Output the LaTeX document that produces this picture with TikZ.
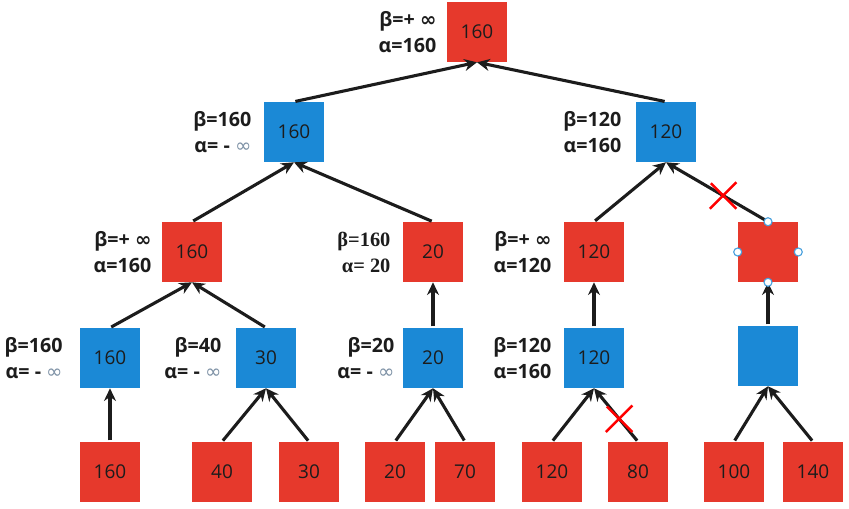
\documentclass[tikz,border=0pt]{standalone}
\usepackage{fontspec}
\setmainfont{Open Sans}
\newfontfamily\symfont{DejaVu Sans}
\newfontfamily\timesfont{Liberation Serif}
\usepackage{xcolor}
\usepackage{tikz}
\usetikzlibrary{arrows.meta, positioning, shapes.misc}
\definecolor{myred}{RGB}{230,57,44}
\definecolor{myblue}{RGB}{27,137,214}
\definecolor{mytext}{RGB}{28,28,28}
\definecolor{myinf}{RGB}{125,145,165}
\newcommand{\binf}{{\symfont\bfseries ∞}}
\newcommand{\linf}{{\symfont\mdseries\color{myinf}∞}}
\tikzstyle{redbox} = [rectangle, fill=myred, minimum size=1.5cm, inner sep=0pt, text=mytext, font=\fontsize{13.5}{16}\selectfont]
\tikzstyle{bluebox} = [redbox, fill=myblue]
\tikzstyle{ablabel} = [align=right, inner sep=0pt, text=mytext, font=\fontsize{14}{18.5}\selectfont\bfseries]
\tikzstyle{arrow} = [line width=2.2pt, shorten <=1pt, -{Stealth[length=9pt,width=8.5pt]}, draw=mytext]
\tikzstyle{cut} = [cross out, draw=red, line width=1.8pt, minimum size=0.6cm, inner sep=0pt]
\tikzstyle{handle} = [circle, draw=myblue!80, fill=white, line width=0.8pt, minimum size=0.2cm, inner sep=0pt]

\begin{document}
\begin{tikzpicture}[x=0.025cm, y=-0.025cm, node distance=0.3cm]
\useasboundingbox (0,0) rectangle (849,508);

% root and max/min levels
\node[redbox] (root) at (477,32) {160};
\node[bluebox] (b1) at (294,132) {160};
\node[bluebox] (b2) at (666,132) {120};

\node[redbox] (r1) at (192,252) {160};
\node[redbox] (r2) at (433,252) {20};
\node[redbox] (r3) at (594,252) {120};
\node[redbox] (r4) at (768,252) {};

\node[bluebox] (b3) at (110,358) {160};
\node[bluebox] (b4) at (266,358) {30};
\node[bluebox] (b5) at (433,358) {20};
\node[bluebox] (b6) at (594,358) {120};
\node[bluebox] (b7) at (768,356) {};

% leaves
\node[redbox] (l1) at (110,472) {160};
\node[redbox] (l2) at (222,472) {40};
\node[redbox] (l3) at (309,472) {30};
\node[redbox] (l4) at (395,472) {20};
\node[redbox] (l5) at (465,472) {70};
\node[redbox] (l6) at (552,472) {120};
\node[redbox] (l7) at (638,472) {80};
\node[redbox] (l8) at (734,472) {100};
\node[redbox] (l9) at (813,472) {140};

% alpha / beta values
\node[ablabel, left=0.25cm of root] (t-root) {β=+ \binf\\α=160};
\node[ablabel, left=0.3cm of b1] (t-b1) {β=160\\α= - \linf};
\node[ablabel, left=0.35cm of b2] (t-b2) {β=120\\α=160};
\node[ablabel, left=0.25cm of r1] (t-r1) {β=+ \binf\\α=160};
\node[ablabel, left=0.3cm of r2, font=\fontsize{14.5}{18.5}\selectfont\timesfont\bfseries] (t-r2) {β=160\\α= 20};
\node[ablabel, left=0.3cm of r3] (t-r3) {β=+ \binf\\α=120};
\node[ablabel, left=0.42cm of b3] (t-b3) {β=160\\α= - \linf};
\node[ablabel, left=0.35cm of b4] (t-b4) {β=40\\α= - \linf};
\node[ablabel, left=0.2cm of b5] (t-b5) {β=20\\α= - \linf};
\node[ablabel, left=0.3cm of b6] (t-b6) {β=120\\α=160};

% edges
\draw[arrow] (b1.north) -- (root.south);
\draw[arrow] (b2.north) -- (root.south);
\draw[arrow] (r1.north) -- (b1.south);
\draw[arrow] (r2.north) -- (b1.south);
\draw[arrow] (r3.north) -- (b2.south);
\draw[arrow] (r4.north) -- node[cut, pos=0.44] (x1) {} (b2.south);
\draw[arrow] (b3.north) -- (r1.south);
\draw[arrow] (b4.north) -- (r1.south);
\draw[arrow] (b5.north) -- (r2.south);
\draw[arrow] (b6.north) -- (r3.south);
\draw[arrow] (b7.north) -- (r4.south);
\draw[arrow] (l1.north) -- (b3.south);
\draw[arrow] (l2.north) -- (b4.south);
\draw[arrow] (l3.north) -- (b4.south);
\draw[arrow] (l4.north) -- (b5.south);
\draw[arrow] (l5.north) -- (b5.south);
\draw[arrow] (l6.north) -- (b6.south);
\draw[arrow] (l7.north) -- node[cut, pos=0.43] (x2) {} (b6.south);
\draw[arrow] (l8.north) -- (b7.south);
\draw[arrow] (l9.north) -- (b7.south);

% selection handles
\foreach \a in {north,south,east,west}
  \node[handle] (h-\a) at (r4.\a) {};
\end{tikzpicture}
\end{document}
